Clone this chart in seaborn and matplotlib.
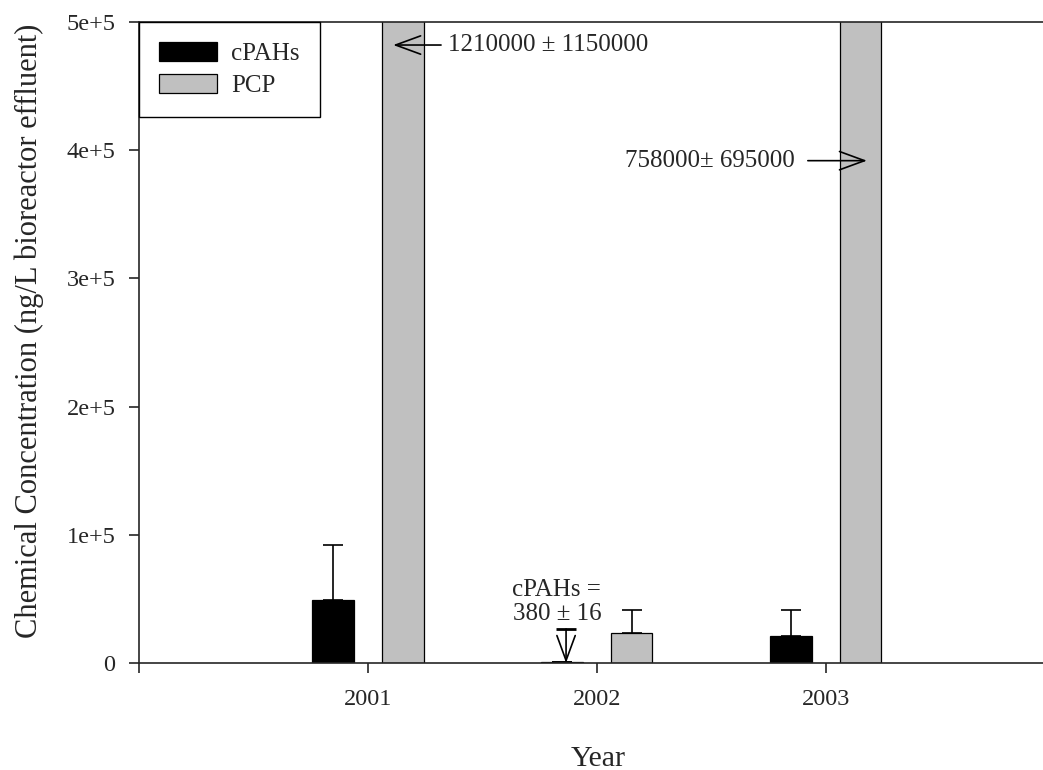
import matplotlib
matplotlib.use("Agg")
import matplotlib.pyplot as plt
from matplotlib.patches import ArrowStyle
import pandas as pd
import seaborn as sns

# --- data ---
years = ["2001", "2002", "2003"]
chemicals = ["cPAHs", "PCP"]
cpah_mean = [49000, 380, 21000]
cpah_err = [43000, 16, 20300]
pcp_mean = [1210000, 23000, 758000]
pcp_err = [1150000, 18500, 695000]
ytick_vals = [0, 100000, 200000, 300000, 400000, 500000]
ytick_labels = ["0", "1e+5", "2e+5", "3e+5", "4e+5", "5e+5"]

df = pd.DataFrame({
    "Year": years * 2,
    "Chemical": ["cPAHs"] * 3 + ["PCP"] * 3,
    "Conc": cpah_mean + pcp_mean,
})
errs = {"cPAHs": cpah_err, "PCP": pcp_err}

sns.set_style("ticks")
plt.rcParams["font.family"] = ["Liberation Serif", "DejaVu Serif"]
plt.rcParams["axes.linewidth"] = 1.2

fig = plt.figure(figsize=(10.43, 7.70), dpi=100)
ax = fig.add_axes([0.1333, 0.139, 0.8667, 0.8325])

sns.barplot(data=df, x="Year", y="Conc", hue="Chemical", hue_order=chemicals,
            palette={"cPAHs": "black", "PCP": "#c0c0c0"}, saturation=1,
            width=0.604, gap=0.394, errorbar=None,
            edgecolor="black", linewidth=0.9, ax=ax)

# one-sided error bars on top of each bar
for cont, chem in zip(ax.containers, chemicals):
    xs = [b.get_x() + b.get_width() / 2 for b in cont]
    ys = [b.get_height() for b in cont]
    ax.errorbar(xs, ys, yerr=[[0] * len(ys), errs[chem]], fmt="none",
                ecolor="black", elinewidth=1.2, capsize=7, capthick=1.2, zorder=1)

ax.set_xticks([-1, 0, 1, 2])
ax.set_xticklabels([""] + years)
ax.set_yticks(ytick_vals)
ax.set_yticklabels(ytick_labels)
# limits after the ticks, otherwise set_xticks widens the view
ax.set_xlim(-1, 2.948)
ax.set_ylim(0, 500000)
ax.tick_params(axis="x", length=7, width=1.2, pad=12, labelsize=17.5)
ax.tick_params(axis="y", length=7, width=1.2, pad=10, labelsize=17.5)
ax.spines["right"].set_visible(False)

ax.set_xlabel("Year", fontsize=21.5)
ax.set_ylabel("Chemical Concentration (ng/L bioreactor effluent)", fontsize=22)
ax.xaxis.set_label_coords(0.508, -0.129)
ax.yaxis.set_label_coords(-0.105, 0.518)

# legend
handles, labels = ax.get_legend_handles_labels()
leg = ax.legend(handles, labels, loc="upper left", bbox_to_anchor=(0, 1),
                borderaxespad=0, fontsize=18, frameon=True, fancybox=False,
                edgecolor="black", framealpha=1, handlelength=2.3,
                handleheight=0.8, handletextpad=0.58, borderpad=0.8,
                labelspacing=0.35)
leg.get_frame().set_linewidth(1.0)

# annotations
arrow = ArrowStyle("->", head_length=0.6, head_width=0.22)
ax.annotate("", xy=(0.110, 482000), xytext=(0.319, 482000),
            arrowprops=dict(arrowstyle=arrow, color="black", lw=1.2,
                            shrinkA=0, shrinkB=0, mutation_scale=30))
ax.text(0.349, 482000, "1210000 ± 1150000", ha="left", va="center", fontsize=18)

ax.annotate("", xy=(2.179, 391800), xytext=(1.921, 391800),
            arrowprops=dict(arrowstyle=arrow, color="black", lw=1.2,
                            shrinkA=0, shrinkB=0, mutation_scale=30))
ax.text(1.865, 391800, "758000± 695000", ha="right", va="center", fontsize=18)

# arrow pointing at the tiny 2002 cPAHs bar, with a flat bar at its tail
ax.annotate("", xy=(0.865, 0), xytext=(0.865, 26500),
            arrowprops=dict(arrowstyle=arrow, color="black", lw=1.2,
                            shrinkA=0, shrinkB=0, mutation_scale=30))
ax.plot([0.865], [26500], marker="_", markersize=14, mew=2.0, color="black")
ax.text(0.825, 47500, "cPAHs =\n380 ± 16", ha="center", va="center",
        fontsize=18, linespacing=1.1, multialignment="center")

fig.savefig("out.png", dpi=100)
